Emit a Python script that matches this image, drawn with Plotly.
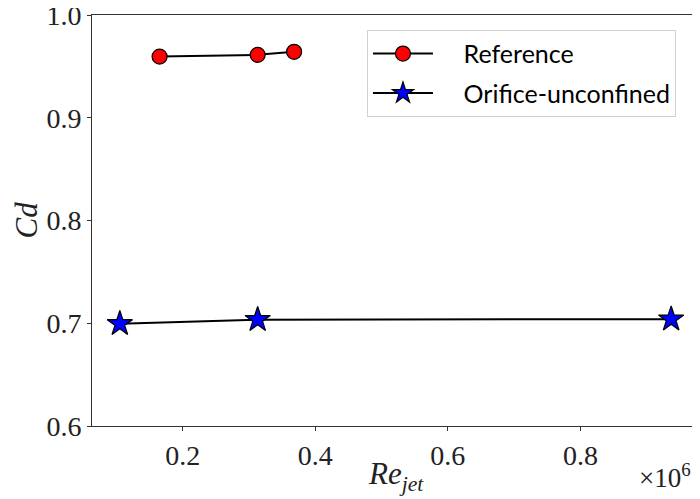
import plotly.graph_objects as go

# Data
ref_re = [0.165, 0.313, 0.368]
ref_cd = [0.9595, 0.9612, 0.9642]
ori_re = [0.105, 0.313, 0.937]
ori_cd = [0.6995, 0.7035, 0.7040]

x_ticks = [0.2, 0.4, 0.6, 0.8]
y_ticks = [0.6, 0.7, 0.8, 0.9, 1.0]

serif = "Liberation Serif, DejaVu Serif, serif"
sans = "Lato, Open Sans, DejaVu Sans, sans-serif"
nb = "\u00a0\u00a0\u00a0\u00a0"

fig = go.Figure()
fig.add_trace(go.Scatter(
    x=ref_re, y=ref_cd, mode="lines+markers", name=nb + "Reference",
    legendgroup="a",
    line=dict(color="black", width=2),
    marker=dict(symbol="circle", size=15, color="red", line=dict(color="black", width=1.2)),
))
fig.add_trace(go.Scatter(
    x=ori_re, y=ori_cd, mode="lines+markers", name=nb + "Orifice-unconfined",
    legendgroup="b",
    line=dict(color="black", width=2),
    marker=dict(symbol="star", size=19, color="blue", line=dict(color="black", width=1.2)),
))

axis_common = dict(
    showgrid=False, zeroline=False, showline=True, mirror=True, automargin=False,
    linecolor="#333", linewidth=1, ticks="outside", ticklen=4, tickwidth=1,
    tickcolor="#333", tickfont=dict(family=serif, size=28, color="#222"),
    ticklabeloverflow="allow",
)

# page body has an 8px margin, so the figure is offset by 8px
fig.update_layout(
    width=692, height=491,
    margin=dict(l=84, r=1, t=7, b=73),
    paper_bgcolor="white", plot_bgcolor="white",
    showlegend=True,
    legend=dict(
        x=0.453, y=0.964, xanchor="left", yanchor="top",
        bgcolor="white", bordercolor="#d0d0d0", borderwidth=1,
        font=dict(family=sans, size=25, color="black"),
        itemwidth=60, traceorder="grouped", tracegroupgap=4,
    ),
    xaxis=dict(range=[0.063, 0.979], tickvals=x_ticks,
               ticktext=[f"{v:.1f}" for v in x_ticks], **axis_common),
    yaxis=dict(range=[0.6, 1.0], tickvals=y_ticks,
               ticktext=[f"{v:.1f}" for v in y_ticks], **axis_common),
    annotations=[
        dict(text="<i>Re</i><sub><i>jet</i></sub>", xref="paper", yref="paper",
             x=0.5, y=0, yshift=-50, xanchor="center", yanchor="middle",
             showarrow=False, font=dict(family=serif, size=31, color="#222")),
        dict(text="×10<sup>6</sup>", xref="paper", yref="paper",
             x=1.0, xshift=-6, y=0, yshift=-50, xanchor="right", yanchor="middle",
             showarrow=False, font=dict(family=serif, size=27, color="#222")),
        dict(text="<i>Cd</i>", xref="paper", yref="paper",
             x=0, xshift=-66, y=0.5, xanchor="center", yanchor="middle",
             textangle=-90, showarrow=False,
             font=dict(family=serif, size=31, color="#222")),
    ],
)

fig.write_html("out.html")
